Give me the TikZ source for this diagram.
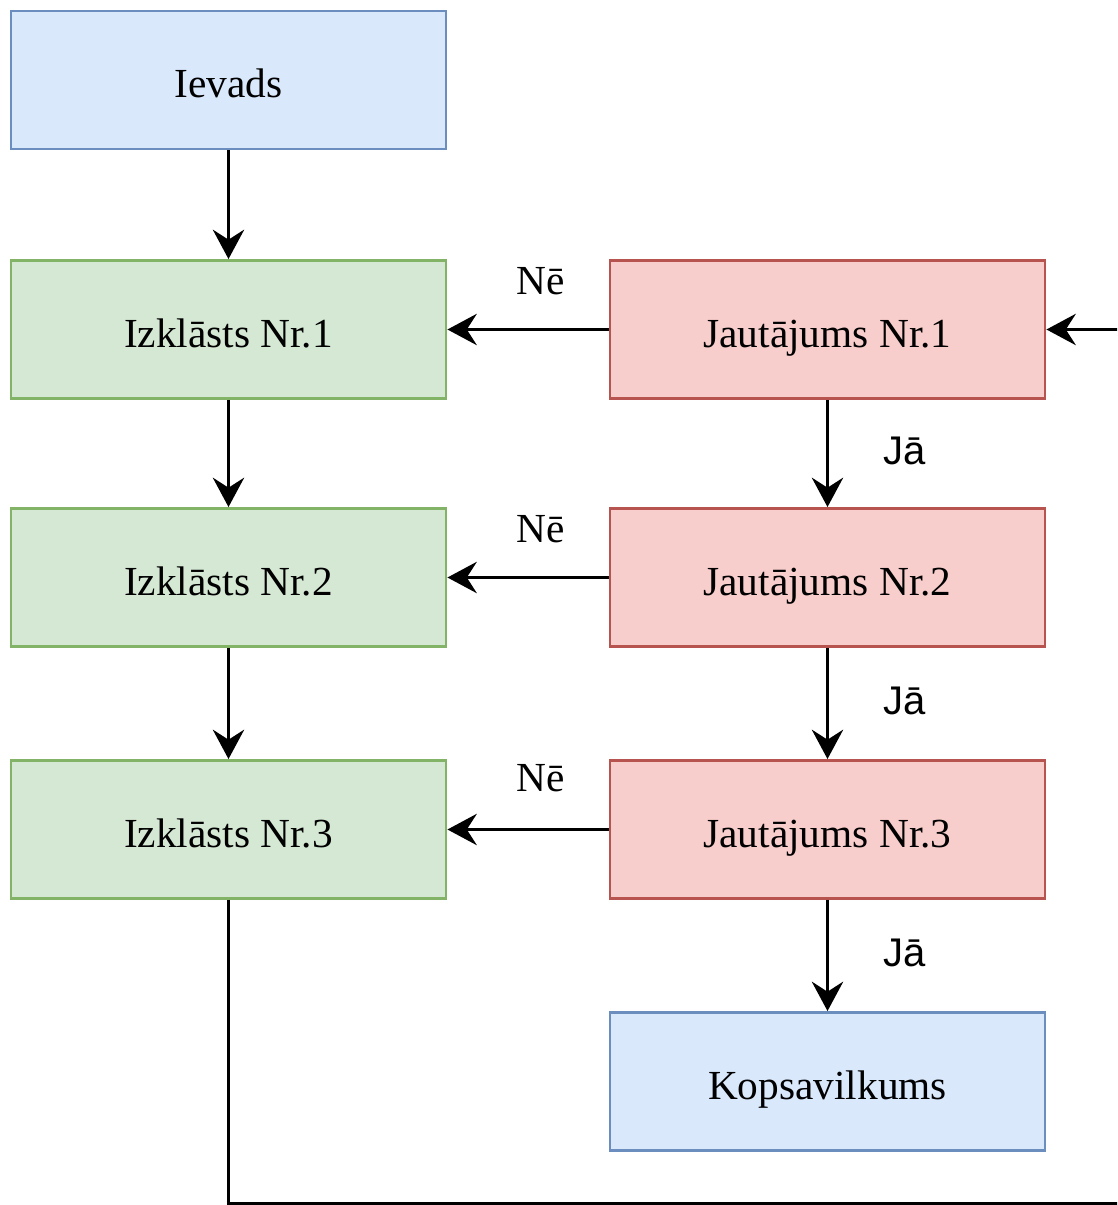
\documentclass[tikz,border=0pt]{standalone}
\usepackage{fontspec}
\setmainfont{Liberation Serif}
\newfontfamily\labsans{Liberation Sans}
\usetikzlibrary{arrows.meta}
\definecolor{bluefill}{HTML}{DAE8FC}\definecolor{bluedraw}{HTML}{6C8EBF}
\definecolor{greenfill}{HTML}{D5E8D4}\definecolor{greendraw}{HTML}{82B366}
\definecolor{redfill}{HTML}{F8CECC}\definecolor{reddraw}{HTML}{B85450}
\tikzset{
  box/.style={rectangle, line width=2.2pt, minimum width=326.25pt, minimum height=103.5pt, inner sep=0pt, text height=27pt, text depth=0pt, font=\fontsize{31}{36}\selectfont},
  bluebox/.style={box, fill=bluefill, draw=bluedraw},
  greenbox/.style={box, fill=greenfill, draw=greendraw},
  redbox/.style={box, fill=redfill, draw=reddraw},
  conn/.style={line width=2.25pt, -{Stealth[length=22pt, width=23.5pt, inset=7.5pt]}},
  nelab/.style={font=\fontsize{31}{36}\selectfont, inner sep=0pt},
  jalab/.style={font=\labsans\fontsize{30}{36}\selectfont, inner sep=0pt}
}
\begin{document}
\begin{tikzpicture}[x=0.75pt, y=-0.75pt]
\useasboundingbox (0,0) rectangle (1117,1205);
\clip (0,0) rectangle (1117,1205);
\node[bluebox] (iev) at (228.5,80) {Ievads};
\node[greenbox] (iz1) at (228.5,329.5) {Izklāsts Nr.1};
\node[greenbox] (iz2) at (228.5,577.5) {Izklāsts Nr.2};
\node[greenbox] (iz3) at (228.5,829.5) {Izklāsts Nr.3};
\node[redbox] (ja1) at (827.5,329.5) {Jautājums Nr.1};
\node[redbox] (ja2) at (827.5,577.5) {Jautājums Nr.2};
\node[redbox] (ja3) at (827.5,829.5) {Jautājums Nr.3};
\node[bluebox] (kop) at (827.5,1081.5) {Kopsavilkums};
\draw[conn] (iev) -- (iz1);
\draw[conn] (iz1) -- (iz2);
\draw[conn] (iz2) -- (iz3);
\draw[conn] (ja1) -- (iz1);
\draw[conn] (ja2) -- (iz2);
\draw[conn] (ja3) -- (iz3);
\draw[conn] (ja1) -- (ja2);
\draw[conn] (ja2) -- (ja3);
\draw[conn] (ja3) -- (kop);
\coordinate (c1) at (228.5,1203.5);
\coordinate (c2) at (1140,1203.5);
\coordinate (c3) at (1140,329.5);
\draw[conn] (iz3.south) -- (c1) -- (c2) -- (c3) -- (ja1.east);
\node[nelab] (n1) at (541,281) {Nē};
\node[nelab] (n2) at (541,529) {Nē};
\node[nelab] (n3) at (541,778) {Nē};
\node[jalab] (j1) at (905,451) {Jā};
\node[jalab] (j2) at (905,701) {Jā};
\node[jalab] (j3) at (905,953) {Jā};
\end{tikzpicture}
\end{document}
